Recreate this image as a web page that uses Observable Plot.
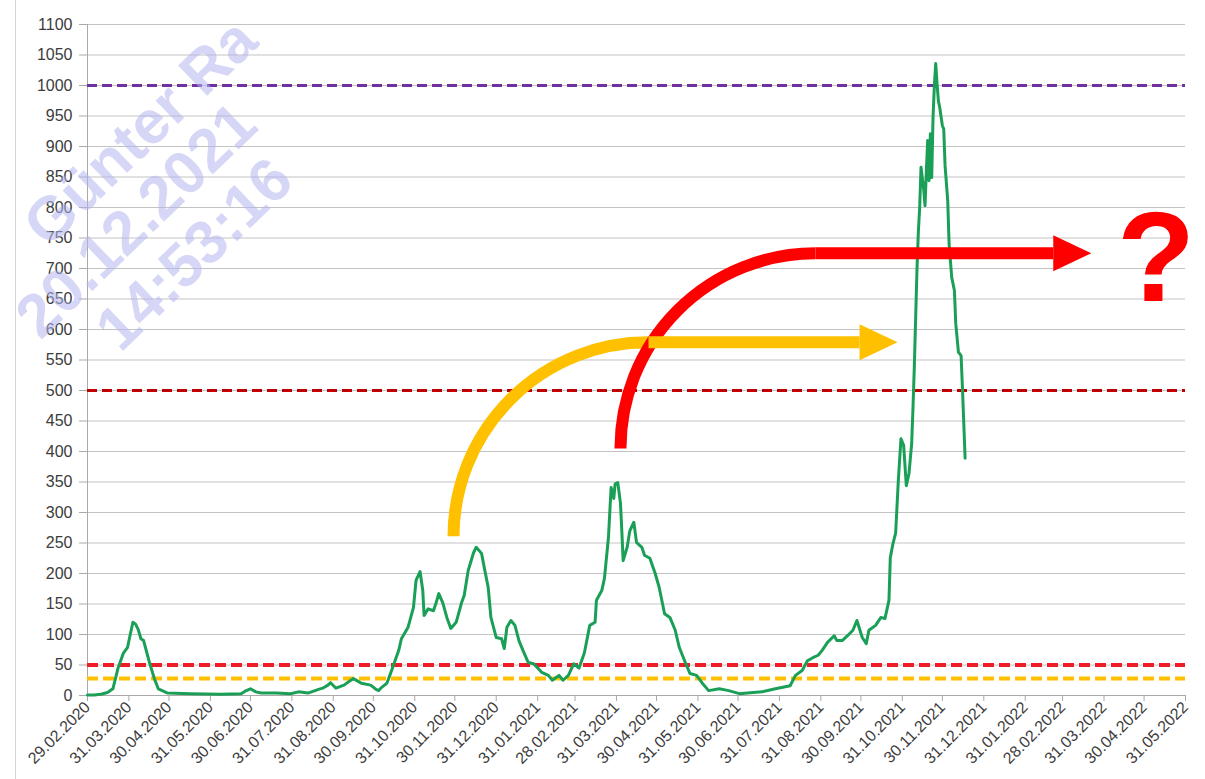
<!DOCTYPE html>
<html>
<head>
<meta charset="utf-8">
<script src="https://cdn.jsdelivr.net/npm/d3@7"></script>
<script src="https://cdn.jsdelivr.net/npm/@observablehq/plot@0.6"></script>
<style>
html,body{margin:0;padding:0;background:#fff;}
#wrap{position:relative;width:1205px;height:779px;overflow:hidden;background:#fff;}
#frameLine{position:absolute;left:15px;top:0;width:0;height:779px;border-left:1px solid #d4d4d4;}
.wm{position:absolute;font-family:"Liberation Sans",Arial,sans-serif;font-weight:bold;font-size:61px;line-height:1;color:rgba(180,180,238,0.55);white-space:nowrap;transform-origin:center;transform:translate(-50%,-50%) rotate(-44deg);pointer-events:none;}
</style>
</head>
<body>
<div id="wrap">
<div id="chart"></div>
<div id="frameLine"></div>
<div class="wm" style="left:140px;top:132px">Günter Ra</div>
<div class="wm" style="left:136px;top:220px">20.12.2021</div>
<div class="wm" style="left:194px;top:254px">14:53:16</div>
</div>
<script>
// ---- series: 7-day incidence ----
const dates = [
"2020-02-29","2020-03-05","2020-03-10","2020-03-15","2020-03-19","2020-03-23","2020-03-27","2020-03-30",
"2020-04-01","2020-04-03","2020-04-05","2020-04-07","2020-04-09","2020-04-11","2020-04-15","2020-04-19",
"2020-04-22","2020-04-29","2020-05-16","2020-06-08","2020-06-23","2020-06-26","2020-06-30","2020-07-04",
"2020-07-08","2020-07-19","2020-07-30","2020-08-05","2020-08-12","2020-08-20","2020-08-23","2020-08-27",
"2020-08-29","2020-09-02","2020-09-08","2020-09-15","2020-09-18","2020-09-21","2020-09-28","2020-10-02",
"2020-10-04","2020-10-06","2020-10-10","2020-10-11","2020-10-15","2020-10-19","2020-10-21","2020-10-26",
"2020-10-30","2020-11-01","2020-11-04","2020-11-06","2020-11-07","2020-11-10","2020-11-14","2020-11-16",
"2020-11-18","2020-11-21","2020-11-24","2020-11-27","2020-12-01","2020-12-05","2020-12-07","2020-12-10",
"2020-12-14","2020-12-16","2020-12-20","2020-12-22","2020-12-25","2020-12-27","2020-12-31",
"2021-01-04","2021-01-06","2021-01-08","2021-01-11","2021-01-14","2021-01-17","2021-01-20","2021-01-24",
"2021-01-28","2021-02-03","2021-02-08","2021-02-11","2021-02-16","2021-02-19","2021-02-23","2021-02-27",
"2021-03-03","2021-03-07","2021-03-11","2021-03-15","2021-03-16","2021-03-20","2021-03-22","2021-03-25",
"2021-03-27","2021-03-29","2021-03-30","2021-04-01","2021-04-03","2021-04-04","2021-04-05","2021-04-08",
"2021-04-10","2021-04-13","2021-04-15","2021-04-19","2021-04-21","2021-04-25","2021-04-29","2021-05-02",
"2021-05-06","2021-05-10","2021-05-14","2021-05-17","2021-05-21","2021-05-25","2021-05-30","2021-06-03",
"2021-06-08","2021-06-16","2021-06-23","2021-07-01","2021-07-07","2021-07-18","2021-07-28","2021-08-08",
"2021-08-12","2021-08-17","2021-08-21","2021-08-25","2021-08-29","2021-09-01","2021-09-05","2021-09-10",
"2021-09-12","2021-09-16","2021-09-20","2021-09-24","2021-09-27","2021-10-01","2021-10-04","2021-10-06",
"2021-10-11","2021-10-15","2021-10-18","2021-10-21","2021-10-22","2021-10-24","2021-10-26","2021-10-28",
"2021-10-30","2021-11-01","2021-11-03","2021-11-05","2021-11-07","2021-11-08","2021-11-09","2021-11-10",
"2021-11-11","2021-11-12","2021-11-13","2021-11-14","2021-11-15","2021-11-16","2021-11-17","2021-11-18",
"2021-11-19","2021-11-20","2021-11-21","2021-11-22","2021-11-23","2021-11-24","2021-11-25","2021-11-26",
"2021-11-27","2021-11-28","2021-11-30","2021-12-01","2021-12-02","2021-12-04","2021-12-05","2021-12-07",
"2021-12-09","2021-12-10","2021-12-12","2021-12-14","2021-12-15","2021-12-17"
];
const values = [
1,1,2,5,11,46,70,79,
100,120,117,108,93,90,57,28,
11,4,3,2,3,7,11,6,
4,4,3,6,4,10,12,17,
21,12,17,28,24,20,17,10,
8,13,20,25,49,74,93,112,
144,189,203,172,131,142,139,152,
167,152,128,110,120,152,164,205,
234,243,233,210,177,128,95,
93,77,112,123,115,90,74,54,
52,38,33,25,33,25,33,52,
45,70,115,120,156,172,192,259,
341,323,347,349,315,270,221,243,
270,284,251,243,230,225,200,177,
134,128,107,79,57,36,33,21,
8,11,8,3,4,6,11,16,
33,41,57,62,66,74,87,98,
90,90,98,107,123,95,85,107,
115,128,126,156,226,249,266,352,
421,410,344,364,413,472,540,620,
700,760,800,866,848,830,803,860,
910,844,921,849,948,1000,1036,1003,
975,964,934,929,869,811,741,685,
664,610,563,557,505,389
];

// ---- threshold lines ----
const thresholdValues = [1000, 500, 50, 28];
const thresholdColors = ["#7030a0", "#c00000", "#ee1c24", "#ffc000"];

// ---- axis ticks ----
const yTicks = [0,50,100,150,200,250,300,350,400,450,500,550,600,650,700,750,800,850,900,950,1000,1050,1100];
const xTickLabels = ["29.02.2020","31.03.2020","30.04.2020","31.05.2020","30.06.2020","31.07.2020","31.08.2020",
"30.09.2020","31.10.2020","30.11.2020","31.12.2020","31.01.2021","28.02.2021","31.03.2021","30.04.2021",
"31.05.2021","30.06.2021","31.07.2021","31.08.2021","30.09.2021","31.10.2021","30.11.2021","31.12.2021",
"31.01.2022","28.02.2022","31.03.2022","30.04.2022","31.05.2022"];

// ---- annotation arrows (data space) ----
const arrowColors = ["#ffc000", "#ff0000"];
const arcStartDates = ["2020-11-29", "2021-04-03"];
const arcStartValues = [261, 405];
const arcEndDates = ["2021-04-24", "2021-08-27"];
const arcEndValues = [579, 725];
const headBaseDates = ["2021-09-29", "2022-02-21"];
const questionDate = ["2022-05-09"];
const questionValue = [647];

const iso = d3.utcParse("%Y-%m-%d");
const dmy = d3.utcParse("%d.%m.%Y");
const series = dates.map((d, i) => ({date: iso(d), value: values[i]}));
const thresholds = thresholdValues.map((v, i) => ({value: v, color: thresholdColors[i]}));
const xTicks = xTickLabels.map(dmy);
const arrows = arrowColors.map((c, i) => ({
  color: c,
  x1: iso(arcStartDates[i]), y1: arcStartValues[i],
  x2: iso(arcEndDates[i]), y2: arcEndValues[i],
  x3: iso(headBaseDates[i])
}));
const question = questionDate.map((d, i) => ({date: iso(d), value: questionValue[i], t: "?"}));

const arrowHead = {
  draw(ctx) {
    ctx.moveTo(0, -18);
    ctx.lineTo(38, 0);
    ctx.lineTo(0, 18);
    ctx.closePath();
  }
};

const gridColor = "#c3c3c3";
const axisColor = "#a9a9a9";

const chart = Plot.plot({
  width: 1205,
  height: 779,
  marginLeft: 87,
  marginRight: 20,
  marginTop: 24,
  marginBottom: 84,
  style: {fontFamily: "'Liberation Sans', Arial, sans-serif", fontSize: "16px", color: "#3c3c3c", background: "#fff", overflow: "visible"},
  x: {type: "utc", domain: [xTicks[0], xTicks[xTicks.length - 1]]},
  y: {domain: [0, 1100]},
  marks: [
    Plot.ruleY(yTicks, {stroke: gridColor, strokeWidth: 1}),
    Plot.ruleX([xTicks[0]], {stroke: axisColor, strokeWidth: 1}),
    Plot.ruleY([0], {stroke: axisColor, strokeWidth: 1}),
    Plot.axisY({ticks: yTicks, tickFormat: d => String(d), tickSize: 8, tickPadding: 7, stroke: axisColor, fill: "#3c3c3c", fontSize: 16, label: null}),
    Plot.axisX({ticks: xTicks, tickFormat: d3.utcFormat("%d.%m.%Y"), tickRotate: -45, tickSize: 6, tickPadding: 3, stroke: axisColor, fill: "#3c3c3c", fontSize: 16, label: null}),
    Plot.ruleY(thresholds.filter(d => d.value >= 500), {y: "value", stroke: "color", strokeWidth: 3, strokeDasharray: "10,5"}),
    Plot.ruleY(thresholds.filter(d => d.value < 500), {y: "value", stroke: "color", strokeWidth: 4, strokeDasharray: "11,5"}),
    Plot.line(series, {x: "date", y: "value", stroke: "#1a9f57", strokeWidth: 3, strokeLinejoin: "round"}),
    Plot.arrow(arrows.slice(0, 1), {x1: "x1", y1: "y1", x2: "x2", y2: "y2", bend: 45, headLength: 0, stroke: "color", strokeWidth: 12, strokeLinecap: "butt"}),
    Plot.arrow(arrows.slice(1), {x1: "x1", y1: "y1", x2: "x2", y2: "y2", bend: 45, headLength: 0, stroke: "color", strokeWidth: 12, strokeLinecap: "butt"}),
    Plot.link(arrows, {x1: "x2", y1: "y2", x2: "x3", y2: "y2", stroke: "color", strokeWidth: 12, strokeLinecap: "butt"}),
    Plot.dot(arrows, {x: "x3", y: "y2", symbol: arrowHead, fill: "color", stroke: "none", r: 10}),
    Plot.text(question, {x: "date", y: "value", text: "t", fill: "#ff0000", fontSize: 128, fontWeight: "bold", textAnchor: "middle", lineAnchor: "bottom"})
  ]
});
document.getElementById("chart").appendChild(chart);
</script>
</body>
</html>
